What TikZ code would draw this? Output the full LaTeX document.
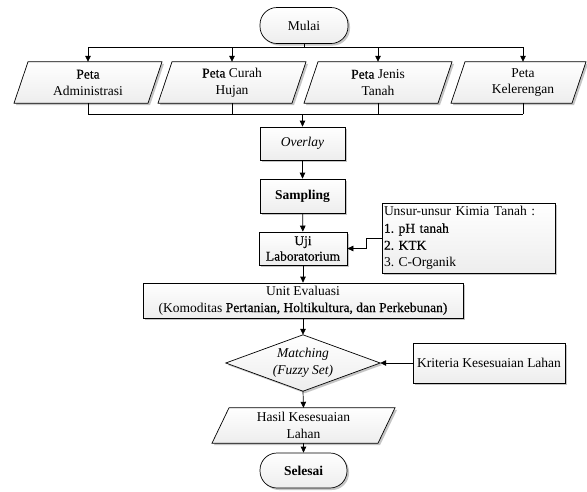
\documentclass[tikz,border=0pt]{standalone}
\usepackage{fontspec}
\setmainfont{Liberation Serif}
\newfontfamily\semib{Liberation Serif}[FakeBold=0.5]
\usetikzlibrary{arrows.meta,calc,shadows}
\pgfdeclarelayer{bg}
\pgfsetlayers{bg,main}
\begin{document}
\frenchspacing
\begin{tikzpicture}[x=1pt,y=-1pt,
  txt/.style={font=\fontsize{13.5}{16.5}\selectfont, align=center, inner sep=0pt},
  shadowed/.style={drop shadow={shadow xshift=2pt, shadow yshift=-2pt, fill=black!45}},
  box/.style={txt, draw=black, line width=0.7pt, top color=white, bottom color=black!7, shadowed},
  term/.style={box, rounded corners=17pt},
  outline/.style={draw=black, line width=0.7pt, top color=white, bottom color=black!7, shadowed},
  conn/.style={line width=0.7pt},
  arr/.style={conn, -{Triangle[length=6pt,width=5.5pt]}}
]
\useasboundingbox (0,0) rectangle (587,491);

% nodes
\node[term, minimum width=88pt, minimum height=36pt] (mulai) at (304,25.5) {Mulai};

\node[txt, minimum width=120pt, minimum height=41pt] (p1) at (88,82.5) {{\semib Peta}\\Administrasi};
\node[txt, minimum width=120pt, minimum height=41pt] (p2) at (232,82.5) {{\semib Peta} Curah\\Hujan};
\node[txt, minimum width=120pt, minimum height=41pt] (p3) at (378,82.5) {{\semib Peta} Jenis\\Tanah};
\node[txt, minimum width=100pt, minimum height=41pt] (p4) at (523,82.5) {Peta\\Kelerengan};

\node[box, minimum width=85pt, minimum height=33pt] (overlay) at (302.5,143.5) {\textit{Overlay}};
\node[box, minimum width=85pt, minimum height=34pt] (sampling) at (302.5,196) {\textbf{Sampling}};
\node[box, minimum width=88pt, minimum height=33pt, font=\fontsize{13.5}{15.5}\selectfont] (uji) at (303,248.5) {\semib Uji\\\semib Laboratorium};

\node[box, align=left, text width=169pt, inner sep=2pt, minimum height=70pt,
      font=\fontsize{13.5}{17}\selectfont] (unsur) at (468.5,238)
  {Unsur-unsur Kimia Tanah :\\{\semib 1. pH tanah}\\{\semib 2. KTK}\\3. C-Organik};

\node[box, minimum width=320pt, minimum height=35pt] (unit) at (303,300.5)
  {Unit Evaluasi\\(Komoditas {\semib Pertanian, Holtikultura, dan Perkebunan)}};

\node[txt, minimum width=154pt, minimum height=56pt] (match) at (303,363)
  {\textit{Matching}\\\textit{(Fuzzy Set)}};

\node[box, minimum width=152pt, minimum height=40pt] (krit) at (489,363) {Kriteria Kesesuaian Lahan};

\node[txt, minimum width=150pt, minimum height=35pt] (hasil) at (303.5,425.5) {Hasil Kesesuaian\\Lahan};

\node[term, minimum width=87pt, minimum height=35pt] (selesai) at (303.5,470.5) {\textbf{Selesai}};

% shapes behind text
\begin{pgfonlayer}{bg}
\fill[white] (0,0) rectangle (587,491);
\path[outline] ($(p1.north)+(-60,0)$) -- ($(p1.north)+(74,0)$) -- ($(p1.south)+(60,0)$) -- ($(p1.south)+(-74,0)$) -- cycle;
\path[outline] ($(p2.north)+(-60,0)$) -- ($(p2.north)+(74,0)$) -- ($(p2.south)+(60,0)$) -- ($(p2.south)+(-74,0)$) -- cycle;
\path[outline] ($(p3.north)+(-60,0)$) -- ($(p3.north)+(74,0)$) -- ($(p3.south)+(60,0)$) -- ($(p3.south)+(-74,0)$) -- cycle;
\path[outline] ($(p4.north)+(-58,0)$) -- ($(p4.north)+(63,0)$) -- ($(p4.south)+(49,0)$) -- ($(p4.south)+(-72,0)$) -- cycle;
\path[outline] (match.north) -- (match.east) -- (match.south) -- (match.west) -- cycle;
\path[outline] ($(hasil.north)+(-74.5,0)$) -- ($(hasil.north)+(91.5,0)$) -- ($(hasil.south)+(74.5,0)$) -- ($(hasil.south)+(-91.5,0)$) -- cycle;
\end{pgfonlayer}

% connectors
\coordinate (busT) at (0,47);
\coordinate (busB) at (0,114);
\draw[conn] (mulai.south) -- (mulai.south |- busT);
\draw[conn] (p1.north |- busT) -- (p4.north |- busT);
\draw[arr] (p1.north |- busT) -- (p1.north);
\draw[arr] (p2.north |- busT) -- (p2.north);
\draw[arr] (p3.north |- busT) -- (p3.north);
\draw[arr] (p4.north |- busT) -- (p4.north);

\draw[conn] (p1.south) -- (p1.south |- busB);
\draw[conn] (p2.south) -- (p2.south |- busB);
\draw[conn] (p3.south) -- (p3.south |- busB);
\draw[conn] (p4.south) -- (p4.south |- busB);
\draw[conn] (p1.south |- busB) -- (p4.south |- busB);
\draw[arr] (overlay.north |- busB) -- (overlay.north);

\draw[arr] (overlay) -- (sampling);
\draw[arr] (sampling) -- (uji);
\draw[arr] (unsur.west) -- ++(-15,0) |- (uji.east);
\draw[arr] (uji) -- (unit);
\draw[arr] (unit.south) -- (match.north);
\draw[arr] (krit.west) -- (match.east);
\draw[arr] (match.south) -- (hasil.north);
\draw[arr] (hasil.south) -- (selesai.north);
\end{tikzpicture}
\end{document}
